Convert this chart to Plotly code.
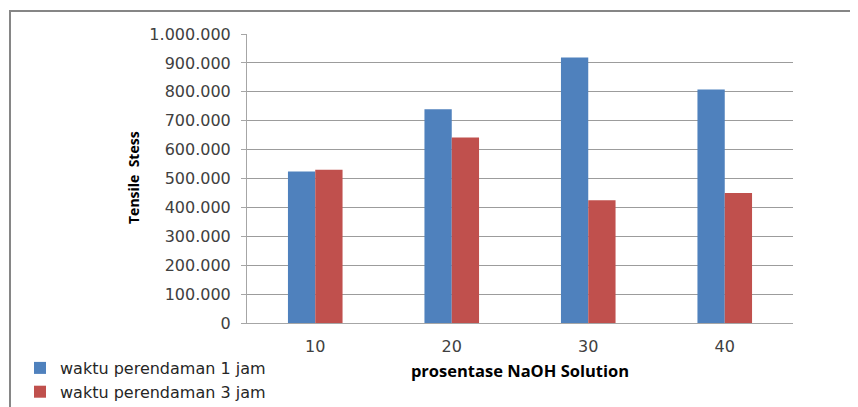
import plotly.graph_objects as go

categories = ["10", "20", "30", "40"]
series_names = ["waktu perendaman 1 jam", "waktu perendaman 3 jam"]
values_1jam = [524000, 740000, 919000, 808000]
values_3jam = [530000, 642000, 425000, 450000]
y_tickvals = [0, 100000, 200000, 300000, 400000, 500000, 600000, 700000, 800000, 900000, 1000000]
x_title = "prosentase NaOH Solution"
y_title = "Tensile  Stess"

# The page body adds an 8px offset; the figure is sized to fill the rest of the window.
OFF = 8
W, H = 858 - OFF, 407 - OFF
L, R, T, B = 247 - OFF, 65, 34 - OFF, 84
pw, ph = W - L - R, H - T - B

def px_x(x):
    return (x - OFF - L) / pw

def px_y(y):
    return (H - B - (y - OFF)) / ph

tick_font = "'DejaVu Sans', sans-serif"
title_font = "'Open Sans', sans-serif"

fig = go.Figure()
fig.add_trace(go.Bar(x=categories, y=values_1jam, name=series_names[0],
                     marker=dict(color="#4F81BD", line=dict(width=0))))
fig.add_trace(go.Bar(x=categories, y=values_3jam, name=series_names[1],
                     marker=dict(color="#C0504D", line=dict(width=0))))

fig.update_layout(
    width=W, height=H,
    margin=dict(l=L, r=R, t=T, b=B, autoexpand=False),
    paper_bgcolor="white", plot_bgcolor="white",
    separators=",.",
    barmode="group", bargap=0.6, bargroupgap=0,
    font=dict(family=tick_font, size=16, color="#404040"),
    showlegend=True,
    legend=dict(xref="container", yref="container",
                x=(20 - OFF) / W, y=1 - (351 - OFF) / H, xanchor="left", yanchor="top",
                font=dict(family=tick_font, size=16, color="#262626"), tracegroupgap=0,
                bgcolor="rgba(0,0,0,0)"),
    xaxis=dict(showgrid=False, showline=True, linecolor="#a6a6a6", linewidth=1,
               ticks="", ticklabelstandoff=9,
               tickfont=dict(family=tick_font, size=16, color="#404040"),
               title=dict(text="<b>" + x_title + "</b>", standoff=10,
                          font=dict(family=title_font, size=16.5, color="#000000"))),
    yaxis=dict(range=[0, 1000000], tickvals=y_tickvals, tickformat=",.0f",
               showgrid=True, gridcolor="#9c9c9c", gridwidth=1,
               showline=True, linecolor="#a6a6a6", linewidth=1,
               ticks="outside", ticklen=5, tickcolor="#a6a6a6",
               ticklabelstandoff=7,
               tickfont=dict(family=tick_font, size=16, color="#404040"), zeroline=False),
    annotations=[dict(text="<b>" + y_title + "</b>", textangle=-90,
                      xref="paper", yref="paper", x=px_x(133), y=px_y(178),
                      xanchor="center", yanchor="middle", showarrow=False,
                      font=dict(family=title_font, size=14, color="#000000"))],
    shapes=[dict(type="rect", xref="paper", yref="paper",
                 x0=px_x(10), x1=px_x(858 + 20), y0=px_y(407 + 20), y1=px_y(11),
                 line=dict(color="#868686", width=2), layer="below")],
)

fig.write_html("out.html")
